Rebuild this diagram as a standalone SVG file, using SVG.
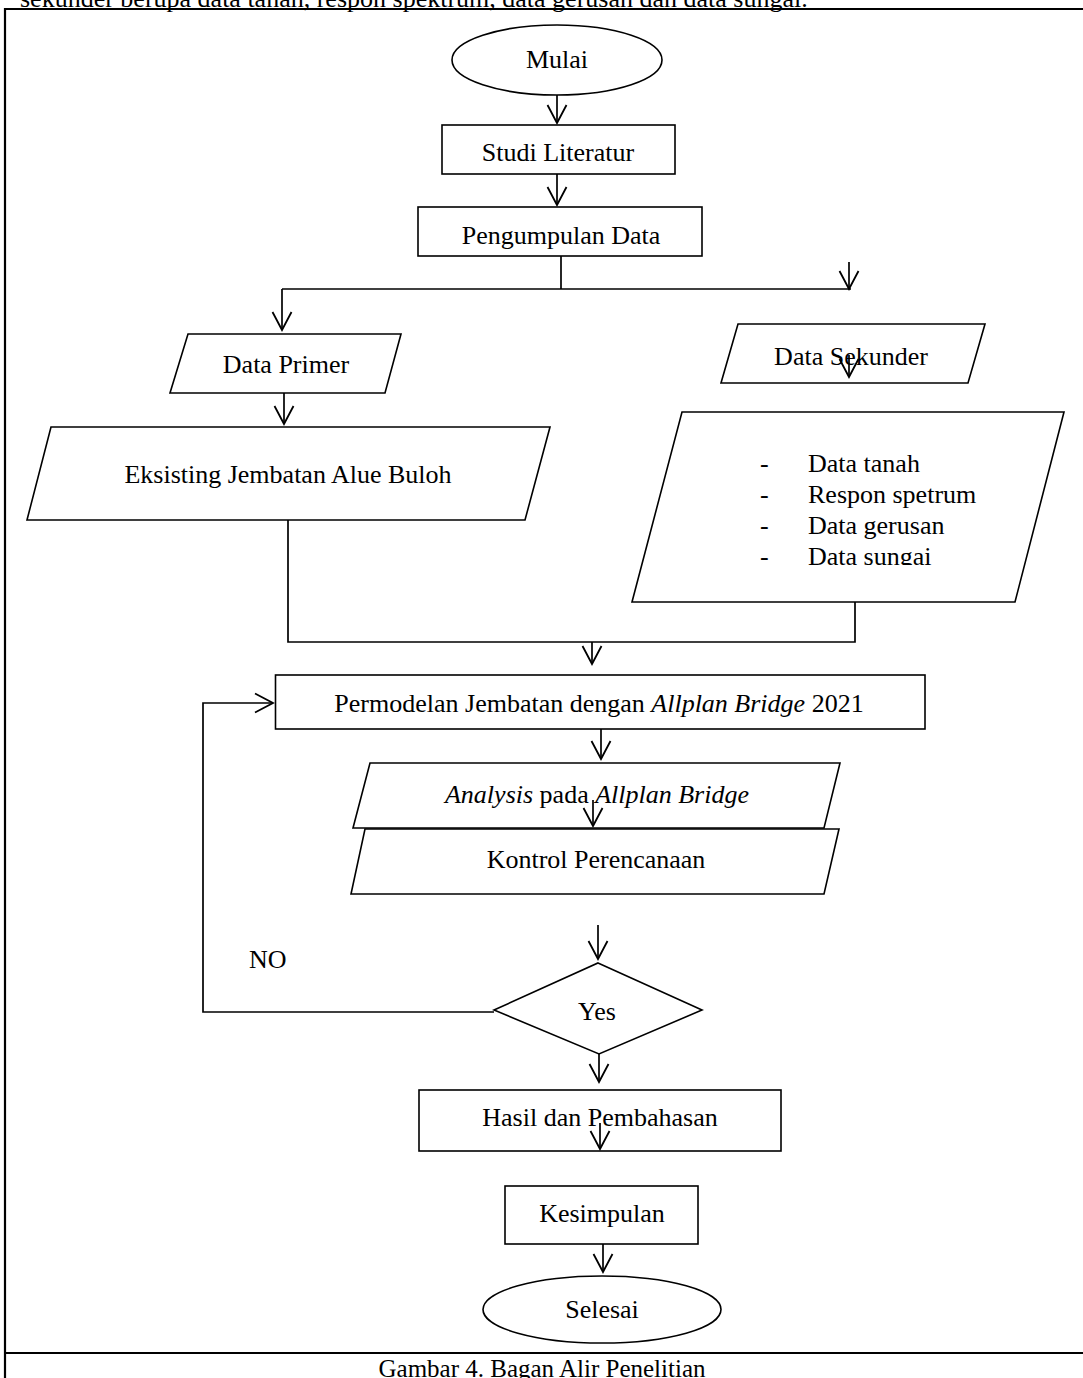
<svg xmlns="http://www.w3.org/2000/svg" width="1083" height="1378" viewBox="0 0 1083 1378">
<style>
  .shape { fill: #fff; stroke: #000; stroke-width: 1.6; }
  .t { font-family: "Liberation Serif", "Times New Roman", serif; font-size: 26px; fill: #000; }
  .c { text-anchor: middle; }
  .i { font-style: italic; }
  .ln { fill: none; stroke: #000; stroke-width: 1.7; }
  .frame { fill: none; stroke: #000; stroke-width: 2.2; }
</style>
<defs>
  <marker id="arr" viewBox="-20 -12 22 24" markerWidth="22" markerHeight="24" refX="0" refY="0" orient="auto" markerUnits="userSpaceOnUse">
    <path d="M-18,-9.5 L0,0 L-18,9.5" fill="none" stroke="#000" stroke-width="1.8"/>
  </marker>
  <clipPath id="clipSek">
    <rect x="600" y="400" width="480" height="165"/>
  </clipPath>
</defs>
<rect width="1083" height="1378" fill="#fff"/>

<g id="page">
  <text class="t" x="20" y="6.5">sekunder berupa data tanah, respon spektrum, data gerusan dan data sungai.</text>
  <line class="frame" x1="5" y1="9" x2="1083" y2="9"/>
  <line class="frame" x1="5" y1="8" x2="5" y2="1378"/>
  <line class="frame" x1="5" y1="1353" x2="1083" y2="1353"/>
  <text class="t c" x="542" y="1377" style="font-size:25px">Gambar 4. Bagan Alir Penelitian</text>
</g>

<g id="connectors">
  <line class="ln" x1="557" y1="95" x2="557" y2="123" marker-end="url(#arr)"/>
  <line class="ln" x1="557" y1="174" x2="557" y2="205" marker-end="url(#arr)"/>
  <polyline class="ln" points="561,256 561,289"/>
  <polyline class="ln" points="282,289 851,289"/>
  <line class="ln" x1="282" y1="289" x2="282" y2="330" marker-end="url(#arr)"/>
  <line class="ln" x1="849" y1="262" x2="849" y2="289" marker-end="url(#arr)"/>
  <line class="ln" x1="284" y1="393" x2="284" y2="424" marker-end="url(#arr)"/>
  <polyline class="ln" points="288,520 288,642 855,642 855,602"/>
  <line class="ln" x1="592" y1="642" x2="592" y2="664" marker-end="url(#arr)"/>
  <line class="ln" x1="601" y1="729" x2="601" y2="759" marker-end="url(#arr)"/>
  <line class="ln" x1="598" y1="925" x2="598" y2="959" marker-end="url(#arr)"/>
  <polyline class="ln" points="494,1012 203,1012 203,703 273,703" marker-end="url(#arr)"/>
  <line class="ln" x1="599" y1="1054" x2="599" y2="1082" marker-end="url(#arr)"/>
  <line class="ln" x1="603" y1="1244" x2="603" y2="1272" marker-end="url(#arr)"/>
</g>

<g id="mulai">
  <ellipse class="shape" cx="557" cy="60" rx="105" ry="35"/>
  <text class="t c" x="557" y="68">Mulai</text>
</g>

<g id="studi-literatur">
  <rect class="shape" x="442" y="125" width="233" height="49"/>
  <text class="t c" x="558" y="161">Studi Literatur</text>
</g>

<g id="pengumpulan-data">
  <rect class="shape" x="418" y="207" width="284" height="49"/>
  <text class="t c" x="561" y="244">Pengumpulan Data</text>
</g>

<g id="data-primer">
  <polygon class="shape" points="188,334 401,334 385,393 170,393"/>
  <text class="t c" x="286" y="373">Data Primer</text>
</g>

<g id="data-sekunder">
  <polygon class="shape" points="738,324 985,324 968,383 721,383"/>
  <text class="t c" x="851" y="365">Data Sekunder</text>
  <line class="ln" x1="849" y1="355" x2="849" y2="377" marker-end="url(#arr)"/>
</g>

<g id="eksisting">
  <polygon class="shape" points="51,427 550,427 525,520 27,520"/>
  <text class="t c" x="288" y="483">Eksisting Jembatan Alue Buloh</text>
</g>

<g id="data-list">
  <polygon class="shape" points="682,412 1064,412 1015,602 632,602"/>
  <g clip-path="url(#clipSek)">
    <text class="t" x="760" y="472">-</text>
    <text class="t" x="808" y="472">Data tanah</text>
    <text class="t" x="760" y="503">-</text>
    <text class="t" x="808" y="503">Respon spetrum</text>
    <text class="t" x="760" y="534">-</text>
    <text class="t" x="808" y="534">Data gerusan</text>
    <text class="t" x="760" y="565">-</text>
    <text class="t" x="808" y="565">Data sungai</text>
  </g>
</g>

<g id="permodelan">
  <rect class="shape" x="275.5" y="675" width="649.5" height="54"/>
  <text class="t c" x="599" y="712">Permodelan Jembatan dengan <tspan class="i">Allplan Bridge</tspan> 2021</text>
</g>

<g id="analysis">
  <polygon class="shape" points="370,763 840,763 824,828 353,828"/>
  <text class="t c" x="597" y="803"><tspan class="i">Analysis</tspan> pada <tspan class="i">Allplan Bridge</tspan></text>
  <line class="ln" x1="593" y1="800" x2="593" y2="826" marker-end="url(#arr)"/>
</g>

<g id="kontrol">
  <polygon class="shape" points="365,829 839,829 824,894 351,894"/>
  <text class="t c" x="596" y="868">Kontrol Perencanaan</text>
</g>

<g id="no-label">
  <text class="t" x="249" y="968">NO</text>
</g>

<g id="decision">
  <polygon class="shape" points="598,963 702,1010 599,1054 494,1010"/>
  <text class="t c" x="597" y="1020">Yes</text>
</g>

<g id="hasil">
  <rect class="shape" x="419" y="1090" width="362" height="61"/>
  <text class="t c" x="600" y="1126">Hasil dan Pembahasan</text>
  <line class="ln" x1="600" y1="1123" x2="600" y2="1149" marker-end="url(#arr)"/>
</g>

<g id="kesimpulan">
  <rect class="shape" x="505" y="1186" width="193" height="58"/>
  <text class="t c" x="602" y="1222">Kesimpulan</text>
</g>

<g id="selesai">
  <ellipse class="shape" cx="602" cy="1309.5" rx="119" ry="33.5"/>
  <text class="t c" x="602" y="1318">Selesai</text>
</g>
</svg>
